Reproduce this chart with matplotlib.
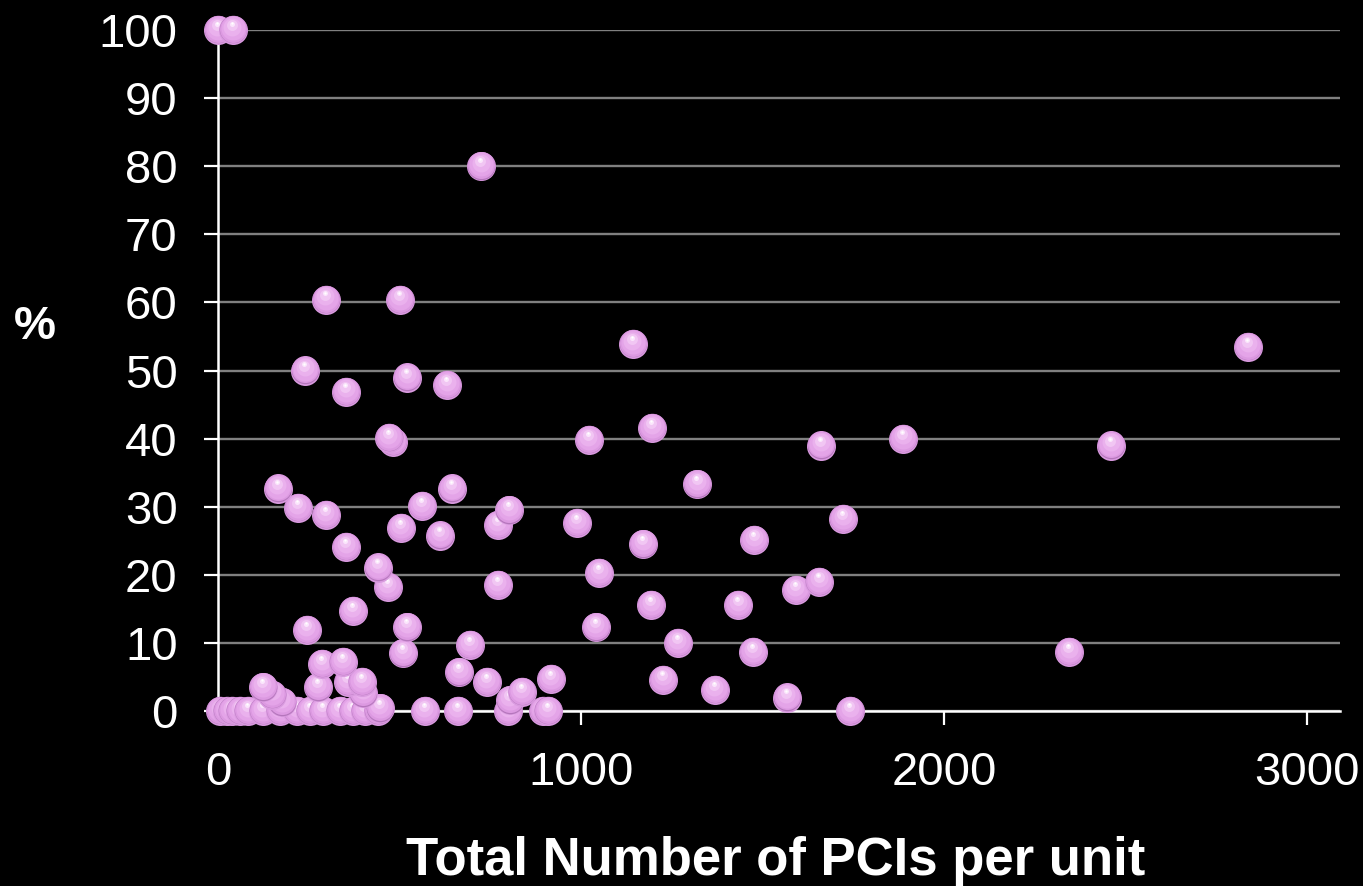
import matplotlib
matplotlib.use('Agg')
import matplotlib.pyplot as plt
from matplotlib.transforms import offset_copy

# Values
pci_total = [
    0, 41, 725, 297, 501, 1143, 2837, 240, 521, 353, 631, 1196, 471, 482, 1022, 1661, 1887, 2460,
    165, 645, 1320, 220, 297, 562, 802, 771, 989, 1722, 504, 612, 1171, 1477, 353, 441, 1050, 468, 771, 1592, 1656,
    372, 1193, 1433, 245, 521, 1041, 694, 1267, 510, 1474, 2344,
    287, 344, 664, 741, 917, 1226, 358, 397, 400, 124, 149, 176, 275, 837, 804, 1369, 1567, 446,
    6, 25, 39, 61, 83, 124, 171, 218, 253, 289, 336, 372, 405, 441, 570, 661, 799, 895, 909, 1741,
]
pct = [
    100, 100, 80, 60.4, 60.4, 53.9, 53.5, 50, 49, 46.9, 47.9, 41.6, 40.1, 39.5, 39.8, 39, 40, 39,
    32.7, 32.7, 33.3, 29.8, 28.8, 30.1, 29.5, 27.3, 27.6, 28.2, 26.9, 25.8, 24.5, 25.1, 24.1, 21.1, 20.3, 18.2, 18.5, 17.8, 19,
    14.7, 15.6, 15.6, 11.9, 12.3, 12.3, 9.7, 10, 8.5, 8.7, 8.7,
    6.9, 7.2, 5.7, 4.3, 4.7, 4.6, 4.3, 4.3, 2.6, 3.5, 2.4, 1.3, 3.5, 2.8, 1.6, 3.1, 2.0, 0.4,
    0, 0, 0, 0, 0, 0, 0, 0, 0, 0, 0, 0, 0, 0, 0, 0, 0, 0, 0, 0,
]
x_ticks = [0, 1000, 2000, 3000]
y_ticks = [0, 10, 20, 30, 40, 50, 60, 70, 80, 90, 100]

FONT = ['Liberation Sans', 'DejaVu Sans']
BG = 'black'
TEXT = 'white'

fig = plt.figure(figsize=(13.63, 8.86), dpi=100, facecolor=BG)
ax = fig.add_axes([218 / 1363, 1 - 711 / 886, (1340 - 218) / 1363, (711 - 30) / 886])
ax.set_facecolor(BG)

ax.set_xlim(0, 3090)
ax.set_ylim(0, 100)
ax.set_xticks(x_ticks)
ax.set_yticks(y_ticks)
ax.set_xticklabels([str(v) for v in x_ticks], fontsize=34, color=TEXT, family=FONT)
ax.set_yticklabels([str(v) for v in y_ticks], fontsize=34, color=TEXT, family=FONT)
ax.tick_params(axis='both', direction='out', length=10, width=1.6, color='white', pad=19)

ax.grid(axis='y', color='#808080', linewidth=1.7, zorder=0)
ax.set_axisbelow(True)
for side in ['top', 'right']:
    ax.spines[side].set_visible(False)
for side in ['left', 'bottom']:
    ax.spines[side].set_color('white')
    ax.spines[side].set_linewidth(1.8)
    ax.spines[side].set_zorder(1)

# shiny sphere markers: stacked circles (diameter px, colour, dx px, dy px)
px = 0.72  # points per pixel at 100 dpi
layers = [
    (29, '#d99adf', 0, -0.2),
    (27.5, '#b576bc', 0, 0.6),
    (27, '#dc99e1', 0, 1.1),
    (24, '#e4a4e8', -0.3, 1.8),
    (18, '#eab1ed', -0.6, 3.2),
    (11, '#f1c6f3', -0.8, 4.8),
    (5, '#fbe6fc', -1.0, 6.2),
    (2.2, '#ffffff', -1.0, 6.8),
]
order = sorted(range(len(pct)), key=lambda i: pct[i])
for n, i in enumerate(order):
    for k, (d, c, dx, dy) in enumerate(layers):
        tr = offset_copy(ax.transData, fig=fig, x=dx, y=dy, units='dots')
        ax.scatter([pci_total[i]], [pct[i]], s=(d * px) ** 2, color=c, linewidths=0,
                   transform=tr, clip_on=False, zorder=3 + n * 0.01 + k * 0.001)

fig.text(35 / 1363, 1 - 327 / 886, '%', fontsize=34, fontweight='bold', color=TEXT,
         family=FONT, ha='center', va='center')
fig.text(776 / 1363, 1 - 875 / 886, 'Total Number of PCIs per unit', fontsize=38,
         fontweight='bold', color=TEXT, family=FONT, ha='center', va='baseline')

fig.savefig('out.png', dpi=100, facecolor=BG)
